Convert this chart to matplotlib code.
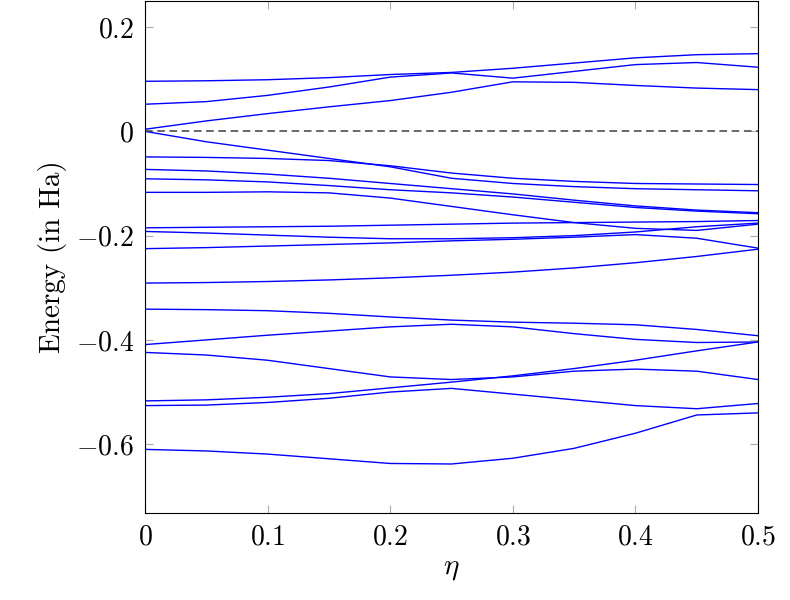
import matplotlib
matplotlib.use("Agg")
import matplotlib.pyplot as plt

plt.rcParams['font.family'] = 'serif'
plt.rcParams['font.serif'] = ['cmr10', 'DejaVu Serif']
plt.rcParams['mathtext.fontset'] = 'cm'
plt.rcParams['axes.unicode_minus'] = False

eta = [0, 0.05, 0.1, 0.15, 0.2, 0.25, 0.3, 0.35, 0.4, 0.45, 0.5]
bands = {
    "A": [0.096, 0.097, 0.099, 0.103, 0.109, 0.113, 0.121, 0.131, 0.141, 0.147, 0.149],
    "B": [0.052, 0.057, 0.069, 0.085, 0.104, 0.112, 0.102, 0.115, 0.128, 0.132, 0.123],
    "C": [0.004, 0.020, 0.034, 0.047, 0.059, 0.075, 0.095, 0.094, 0.088, 0.083, 0.080],
    "D": [0.0, -0.020, -0.036, -0.052, -0.068, -0.090, -0.100, -0.106, -0.110, -0.112, -0.114],
    "E": [-0.049, -0.050, -0.052, -0.056, -0.066, -0.080, -0.090, -0.096, -0.100, -0.101, -0.102],
    "F": [-0.073, -0.076, -0.082, -0.090, -0.100, -0.110, -0.120, -0.132, -0.143, -0.151, -0.156],
    "G": [-0.091, -0.093, -0.097, -0.104, -0.112, -0.118, -0.126, -0.136, -0.146, -0.153, -0.158],
    "H": [-0.117, -0.117, -0.116, -0.118, -0.128, -0.144, -0.160, -0.175, -0.186, -0.190, -0.178],
    "I": [-0.185, -0.184, -0.183, -0.182, -0.180, -0.178, -0.176, -0.175, -0.174, -0.173, -0.171],
    "J": [-0.192, -0.195, -0.199, -0.203, -0.206, -0.206, -0.204, -0.200, -0.193, -0.183, -0.176],
    "K": [-0.225, -0.223, -0.220, -0.217, -0.214, -0.210, -0.207, -0.203, -0.198, -0.205, -0.224],
    "L": [-0.291, -0.290, -0.288, -0.285, -0.281, -0.276, -0.270, -0.262, -0.252, -0.240, -0.226],
    "M": [-0.341, -0.342, -0.344, -0.349, -0.356, -0.362, -0.366, -0.368, -0.371, -0.380, -0.392],
    "N": [-0.409, -0.400, -0.391, -0.383, -0.375, -0.370, -0.375, -0.388, -0.399, -0.405, -0.404],
    "O": [-0.424, -0.429, -0.439, -0.455, -0.471, -0.476, -0.471, -0.460, -0.456, -0.460, -0.476],
    "P": [-0.517, -0.515, -0.510, -0.503, -0.492, -0.481, -0.469, -0.455, -0.439, -0.421, -0.404],
    "P2": [-0.526, -0.525, -0.520, -0.512, -0.500, -0.493, -0.504, -0.515, -0.526, -0.532, -0.522],
    "Q": [-0.610, -0.613, -0.619, -0.628, -0.637, -0.638, -0.627, -0.608, -0.579, -0.544, -0.540],
}
xticks = [0, 0.1, 0.2, 0.3, 0.4, 0.5]
xticklabels = ["$0$", "$0.1$", "$0.2$", "$0.3$", "$0.4$", "$0.5$"]
yticks = [-0.6, -0.4, -0.2, 0, 0.2]
yticklabels = ["$-0.6$", "$-0.4$", "$-0.2$", "$0$", "$0.2$"]

fig = plt.figure(figsize=(7.9, 6.0), dpi=100)
ax = fig.add_axes([145/790, 1 - 513/600, (758-145)/790, 512/600])
for name, vals in bands.items():
    ax.plot(eta, vals, color='#0000ff', lw=1.0)
ax.axhline(0, color='#404040', lw=1.1, ls=(0, (5, 3)))
ax.set_xlim(0, 0.5)
ax.set_ylim(-0.732, 0.25)
ax.set_xticks(xticks)
ax.set_xticklabels(xticklabels, fontsize=20)
ax.set_yticks(yticks)
ax.set_yticklabels(yticklabels, fontsize=20)
ax.tick_params(direction='in', top=True, right=True, length=6, color='#aaaaaa', pad=8)
ax.set_xlabel(r'$\eta$', fontsize=21, labelpad=4)
ax.set_ylabel('Energy (in Ha)', fontsize=21, labelpad=6)
fig.savefig('out.png', dpi=100)
